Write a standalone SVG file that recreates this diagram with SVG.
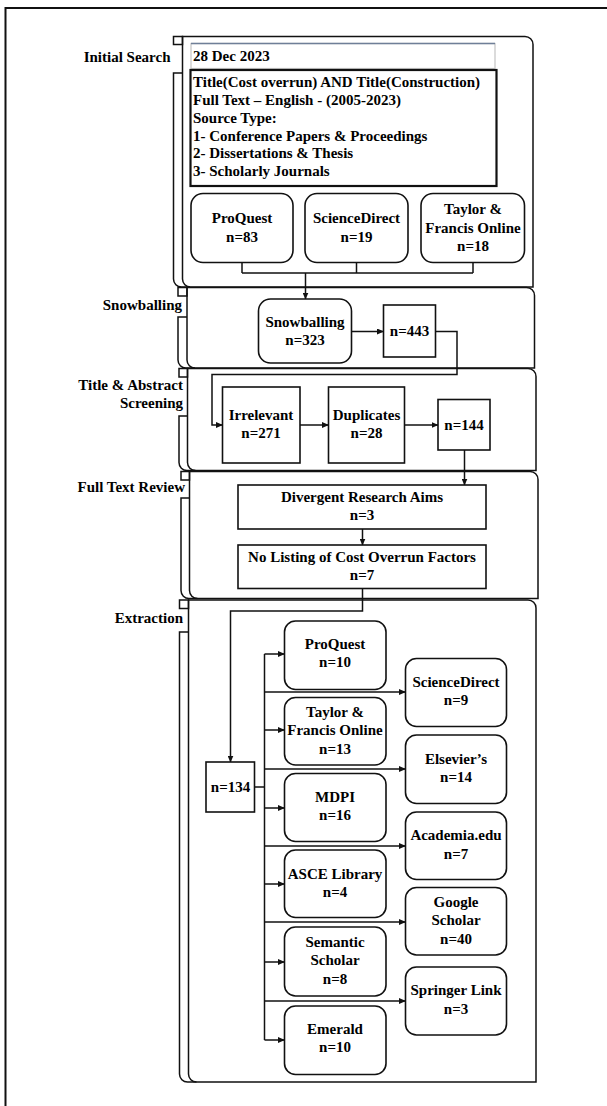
<svg xmlns="http://www.w3.org/2000/svg" width="607" height="1106" viewBox="0 0 607 1106">
<style>
text{font-family:"Liberation Serif","Times New Roman",serif;font-weight:bold;font-size:15px;fill:#000}
.c{text-anchor:middle}
.r{text-anchor:end}
.pan{fill:none;stroke:#111;stroke-width:1.5}
.box{fill:#fff;stroke:#111;stroke-width:1.6}
.con{fill:none;stroke:#111;stroke-width:1.5}
.arr{marker-end:url(#ah)}
</style>
<defs>
<marker id="ah" markerUnits="userSpaceOnUse" markerWidth="7" markerHeight="6" refX="6.5" refY="3" orient="auto">
<path d="M0,0 L7,3 L0,6 Z" fill="#111"/>
</marker>
</defs>
<rect x="5.5" y="8" width="700" height="1200" fill="#fff" stroke="#111" stroke-width="2"/>

<g id="sec-initial">
<rect class="pan" x="173.5" y="36.5" width="9" height="8"/>
<path class="pan" d="M182.5,73 H173.5 V279 A8,8 0 0 0 181.5,287 H190"/>
<path class="pan" d="M182.5,36.5 H525 A8,8 0 0 1 533,44.5 V287 H190.5 A8,8 0 0 1 182.5,279 Z"/>
<text class="r" x="170.5" y="62" font-size="14.5">Initial Search</text>
</g>
<g id="sec-snow">
<rect class="pan" x="178" y="287.5" width="9" height="8.5"/>
<path class="pan" d="M187,317 H178 V360 A8,8 0 0 0 186,368 H195"/>
<path class="pan" d="M187,287.5 H526.5 A8,8 0 0 1 534.5,295.5 V368 H195 A8,8 0 0 1 187,360 Z"/>
<text class="r" x="182" y="310">Snowballing</text>
</g>
<g id="sec-title">
<rect class="pan" x="179" y="368.5" width="8.5" height="8.5"/>
<path class="pan" d="M187.5,416 H179 V462.5 A8,8 0 0 0 187,470.5 H195.5"/>
<path class="pan" d="M187.5,368.5 H528 A8,8 0 0 1 536,376.5 V470.5 H195.5 A8,8 0 0 1 187.5,462.5 Z"/>
<text class="r" x="183" y="390">Title &amp; Abstract</text>
<text class="r" x="183" y="408">Screening</text>
</g>
<g id="sec-full">
<rect class="pan" x="181" y="471.5" width="8.5" height="8.5"/>
<path class="pan" d="M189.5,498 H181 V590.5 A8,8 0 0 0 189,598.5 H197.5"/>
<path class="pan" d="M189.5,471.5 H530 A8,8 0 0 1 538,479.5 V598.5 H197.5 A8,8 0 0 1 189.5,590.5 Z"/>
<text class="r" x="185" y="492">Full Text Review</text>
</g>
<g id="sec-extract">
<rect class="pan" x="179.5" y="600" width="9" height="8.5"/>
<path class="pan" d="M188.5,632 H179.5 V1074 A8,8 0 0 0 187.5,1082 H196.5"/>
<path class="pan" d="M188.5,600 H528 A8,8 0 0 1 536,608 V1082 H196.5 A8,8 0 0 1 188.5,1074 Z"/>
<text class="r" x="183" y="623">Extraction</text>
</g>

<g id="date">
<rect x="191" y="43.5" width="304" height="25" fill="#fff" stroke="#c4c4c4" stroke-width="1.2"/>
<line x1="191" y1="43.5" x2="495" y2="43.5" stroke="#6f7f98" stroke-width="1.5"/>
<text x="193" y="61">28 Dec 2023</text>
</g>
<g id="criteria">
<rect x="190.5" y="70" width="306" height="116" fill="#fff" stroke="#111" stroke-width="2.2"/>
<text x="193" y="87">Title(Cost overrun) AND Title(Construction)</text>
<text x="193" y="105">Full Text – English - (2005-2023)</text>
<text x="193" y="122.5">Source Type:</text>
<text x="193" y="140.5">1- Conference Papers &amp; Proceedings</text>
<text x="193" y="158">2- Dissertations &amp; Thesis</text>
<text x="193" y="176">3- Scholarly Journals</text>
</g>

<g id="connectors">
<path class="con" d="M242,262.5 V273 M356.5,262.5 V273 M473,262.5 V273 M242,273 H473"/>
<path class="con arr" d="M305.5,273 V299"/>
<path class="con arr" d="M351.5,331.5 H383.5"/>
<path class="con arr" d="M435.5,331.5 H457 V374.5 H212 V425 H222.5"/>
<path class="con arr" d="M300,425 H328.5"/>
<path class="con arr" d="M404.5,425 H438"/>
<path class="con arr" d="M464.5,450 V485"/>
<path class="con arr" d="M362.5,529 V545"/>
<path class="con arr" d="M362.5,588.5 V611 H230.5 V762"/>
<path class="con" d="M254.5,787 H264.5 M264.5,654 V1040"/>
<path class="con arr" d="M264.5,654 H284.5"/>
<path class="con arr" d="M264.5,730 H284.5"/>
<path class="con arr" d="M264.5,808 H284.5"/>
<path class="con arr" d="M264.5,884 H284.5"/>
<path class="con arr" d="M264.5,962 H284.5"/>
<path class="con arr" d="M264.5,1040 H284.5"/>
<path class="con arr" d="M264.5,692 H405.5"/>
<path class="con arr" d="M264.5,769 H405.5"/>
<path class="con arr" d="M264.5,846 H405.5"/>
<path class="con arr" d="M264.5,922 H405.5" stroke-width="1.1"/>
<path class="con arr" d="M264.5,1001 H405.5"/>
</g>

<g id="n-proquest1"><rect class="box" x="191" y="193.5" width="102" height="69" rx="12"/><text class="c" x="242" y="223">ProQuest</text><text class="c" x="242" y="242">n=83</text></g>
<g id="n-sciencedirect1"><rect class="box" x="305" y="193.5" width="103" height="69" rx="12"/><text class="c" x="356.5" y="223">ScienceDirect</text><text class="c" x="356.5" y="242">n=19</text></g>
<g id="n-taylor1"><rect class="box" x="421" y="193.5" width="103.5" height="69" rx="12"/><text class="c" x="473" y="214">Taylor &amp;</text><text class="c" x="473" y="232.5">Francis Online</text><text class="c" x="473" y="251">n=18</text></g>

<g id="n-snowball"><rect class="box" x="258.5" y="299" width="93" height="64" rx="12"/><text class="c" x="305" y="327">Snowballing</text><text class="c" x="305" y="345">n=323</text></g>
<g id="n-443"><rect class="box" x="383.5" y="305" width="52" height="52"/><text class="c" x="409.5" y="336">n=443</text></g>

<g id="n-irrelevant"><rect class="box" x="222.5" y="387" width="77.5" height="76"/><text class="c" x="261" y="420">Irrelevant</text><text class="c" x="261" y="438">n=271</text></g>
<g id="n-duplicates"><rect class="box" x="328.5" y="387" width="76" height="76"/><text class="c" x="366.5" y="420">Duplicates</text><text class="c" x="366.5" y="438">n=28</text></g>
<g id="n-144"><rect class="box" x="438" y="399.5" width="52" height="50.5"/><text class="c" x="464" y="430">n=144</text></g>

<g id="n-divergent"><rect class="box" x="238" y="485" width="248" height="44"/><text class="c" x="362" y="502">Divergent Research Aims</text><text class="c" x="362" y="520">n=3</text></g>
<g id="n-nolisting"><rect class="box" x="238" y="545" width="248" height="43.5"/><text class="c" x="362" y="562">No Listing of Cost Overrun Factors</text><text class="c" x="362" y="580">n=7</text></g>

<g id="n-134"><rect class="box" x="206" y="762" width="48.5" height="50"/><text class="c" x="230.5" y="792">n=134</text></g>

<g id="n-proquest2"><rect class="box" x="284.5" y="621" width="101.5" height="68.5" rx="11"/><text class="c" x="335" y="648.5">ProQuest</text><text class="c" x="335" y="667">n=10</text></g>
<g id="n-taylor2"><rect class="box" x="284.5" y="697.5" width="101.5" height="67.5" rx="11"/><text class="c" x="335" y="717">Taylor &amp;</text><text class="c" x="335" y="735">Francis Online</text><text class="c" x="335" y="753.5">n=13</text></g>
<g id="n-mdpi"><rect class="box" x="284.5" y="773.5" width="101.5" height="68" rx="11"/><text class="c" x="335" y="802">MDPI</text><text class="c" x="335" y="820">n=16</text></g>
<g id="n-asce"><rect class="box" x="284.5" y="850" width="101.5" height="67.5" rx="11"/><text class="c" x="335" y="878.5">ASCE Library</text><text class="c" x="335" y="897">n=4</text></g>
<g id="n-semantic"><rect class="box" x="284.5" y="927" width="101.5" height="69" rx="11"/><text class="c" x="335" y="947">Semantic</text><text class="c" x="335" y="965">Scholar</text><text class="c" x="335" y="983.5">n=8</text></g>
<g id="n-emerald"><rect class="box" x="284.5" y="1006" width="101.5" height="68.5" rx="11"/><text class="c" x="335" y="1033.5">Emerald</text><text class="c" x="335" y="1052">n=10</text></g>

<g id="n-sciencedirect2"><rect class="box" x="405.5" y="658.5" width="101" height="68" rx="11"/><text class="c" x="456" y="687">ScienceDirect</text><text class="c" x="456" y="705">n=9</text></g>
<g id="n-elsevier"><rect class="box" x="405.5" y="735" width="101" height="68.5" rx="11"/><text class="c" x="456" y="763.5">Elsevier’s</text><text class="c" x="456" y="782">n=14</text></g>
<g id="n-academia"><rect class="box" x="405.5" y="812" width="101" height="67.5" rx="11"/><text class="c" x="456" y="840">Academia.edu</text><text class="c" x="456" y="858.5">n=7</text></g>
<g id="n-google"><rect class="box" x="405.5" y="887.5" width="101" height="67.5" rx="11"/><text class="c" x="456" y="907">Google</text><text class="c" x="456" y="925">Scholar</text><text class="c" x="456" y="943.5">n=40</text></g>
<g id="n-springer"><rect class="box" x="405.5" y="967" width="101" height="68" rx="11"/><text class="c" x="456" y="995">Springer Link</text><text class="c" x="456" y="1013.5">n=3</text></g>
</svg>
